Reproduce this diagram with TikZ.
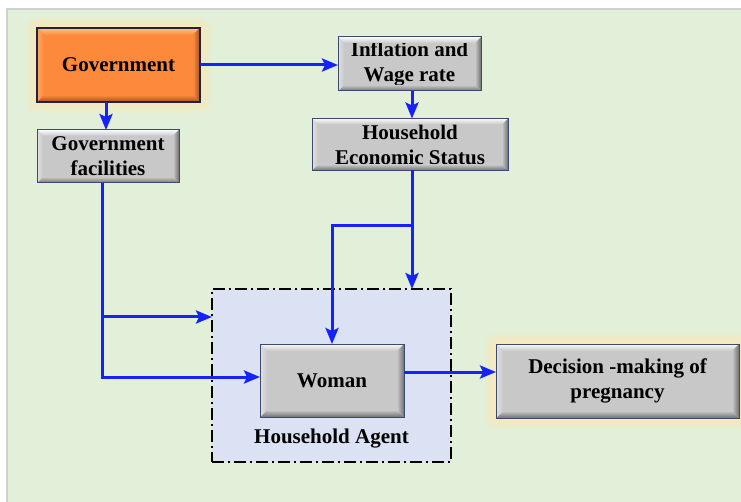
\documentclass[tikz,border=0pt]{standalone}
\usepackage{fontspec}
\setmainfont{Liberation Serif}
\usetikzlibrary{arrows.meta,calc}

\definecolor{bgGreen}{RGB}{226,239,217}
\definecolor{frameGray}{RGB}{208,208,208}
\definecolor{linkBlue}{RGB}{22,34,250}
\definecolor{agentFill}{RGB}{218,226,243}
\definecolor{boxGray}{RGB}{200,200,200}
\definecolor{boxLight}{RGB}{250,250,250}
\definecolor{boxDark}{RGB}{112,112,112}
\definecolor{boxEdge}{RGB}{60,74,110}
\definecolor{govOrange}{RGB}{253,137,58}
\definecolor{govLight}{RGB}{255,196,140}
\definecolor{govDark}{RGB}{165,80,28}
\definecolor{govEdge}{RGB}{28,36,62}
\definecolor{glowYellow}{RGB}{245,234,190}

% raised (bevelled) look for a rectangular node
% #1 node, #2 bevel width, #3 base, #4 light, #5 dark, #6 outline style
\newcommand\bevelbox[6]{%
  \shade[top color=#4, bottom color=#3]
    (#1.north west) -- (#1.north east) -- ($(#1.north east)+(-#2,#2)$)
    -- ($(#1.north west)+(#2,#2)$) -- cycle;
  \shade[top color=#3, bottom color=#5]
    ($(#1.south west)+(#2,-#2)$) -- ($(#1.south east)+(-#2,-#2)$)
    -- (#1.south east) -- (#1.south west) -- cycle;
  \shade[left color=#4!50!#3, right color=#3]
    (#1.north west) -- ($(#1.north west)+(#2,#2)$)
    -- ($(#1.south west)+(#2,-#2)$) -- (#1.south west) -- cycle;
  \shade[left color=#3, right color=#5]
    ($(#1.north east)+(-#2,#2)$) -- (#1.north east)
    -- (#1.south east) -- ($(#1.south east)+(-#2,-#2)$) -- cycle;
  \draw[#6] (#1.north west) rectangle (#1.south east);
}

% soft halo round a box given by its corners
\newcommand\halo[4]{%
  \foreach \g/\o in {11/0.35,8/0.45,5/0.6,2/0.8}{%
    \fill[glowYellow, opacity=\o, rounded corners=\g pt]
      (#1-\g,#2-\g) rectangle (#3+\g,#4+\g);
  }%
}

\begin{document}
\begin{tikzpicture}[x=1pt,y=-1pt,
  every node/.style={font=\fontsize{21}{25}\selectfont\bfseries,
    align=center, outer sep=0pt, inner sep=0pt},
  graybox/.style={fill=boxGray},
  govbox/.style={fill=govOrange},
  grayedge/.style={draw=boxEdge, line width=1pt},
  govedge/.style={draw=govEdge, line width=2pt},
  agentbox/.style={fill=agentFill, draw=black, line width=1.6pt,
    dash pattern=on 12pt off 4pt on 2pt off 4pt},
  conn/.style={draw=linkBlue, line width=3pt,
    -{Stealth[length=16pt,width=13pt,inset=3pt]}}
]
\useasboundingbox (0,0) rectangle (741,502);

% canvas
\fill[white] (0,0) rectangle (741,502);
\fill[frameGray] (6,8) rectangle (741,502);
\fill[bgGreen] (8,10) rectangle (741,502);

% halos
\halo{37}{28}{200}{102}
\halo{496}{344}{739}{418}

% household agent frame
\node[agentbox, minimum width=239pt, minimum height=173pt] (agent) at (331.5,375.5) {};
\node (agentlbl) at (331.5,439) {Household Agent};

% boxes
\node[govbox, minimum width=163pt, minimum height=74pt] (gov) at (118.5,65) {Government};
\bevelbox{gov}{7}{govOrange}{govLight}{govDark}{govedge}

\node[graybox, minimum width=143pt, minimum height=54pt] (infl) at (409.5,64) {Inflation and\\Wage rate};
\bevelbox{infl}{6}{boxGray}{boxLight}{boxDark}{grayedge}

\node[graybox, minimum width=196pt, minimum height=52pt] (hes) at (410,144.5) {Household\\Economic Status};
\bevelbox{hes}{6}{boxGray}{boxLight}{boxDark}{grayedge}

\node[graybox, minimum width=142pt, minimum height=53pt] (gf) at (108,156.5) {Government\\facilities};
\bevelbox{gf}{6}{boxGray}{boxLight}{boxDark}{grayedge}

\node[graybox, minimum width=144pt, minimum height=73pt] (woman) at (332,380.5) {Woman};
\bevelbox{woman}{7}{boxGray}{boxLight}{boxDark}{grayedge}

\node[graybox, minimum width=243pt, minimum height=74pt] (dec) at (617.5,381) {Decision -making of\\pregnancy};
\bevelbox{dec}{7}{boxGray}{boxLight}{boxDark}{grayedge}

% connection points
\coordinate (govOut) at ([xshift=-12.5pt]gov.south);
\coordinate (hesJoin) at (412,226);
\coordinate (hesOut) at (hesJoin |- hes.south);
\coordinate (gfOut) at ([xshift=-6pt]gf.south);
\path (gfOut) ++(0,134) coordinate (gfSplit);
\coordinate (womanIn) at ([yshift=3.5pt]woman.west);
\coordinate (womanOut) at ([yshift=8.5pt]woman.east);

% connectors
\draw[conn] (gov.east) -- (gov.east -| infl.west);
\draw[conn] (govOut) -- (govOut |- gf.north);
\draw[conn] (infl.south -| hesOut) -- (hesOut |- hes.north);
\draw[conn] (hesOut) -- (hesOut |- agent.north);
\draw[conn] (hesJoin) -| (woman.north);
\draw[conn] (gfOut) |- (womanIn);
\draw[conn] (gfSplit) -- (gfSplit -| agent.west);
\draw[conn] (womanOut) -- (womanOut -| dec.west);
\end{tikzpicture}
\end{document}
